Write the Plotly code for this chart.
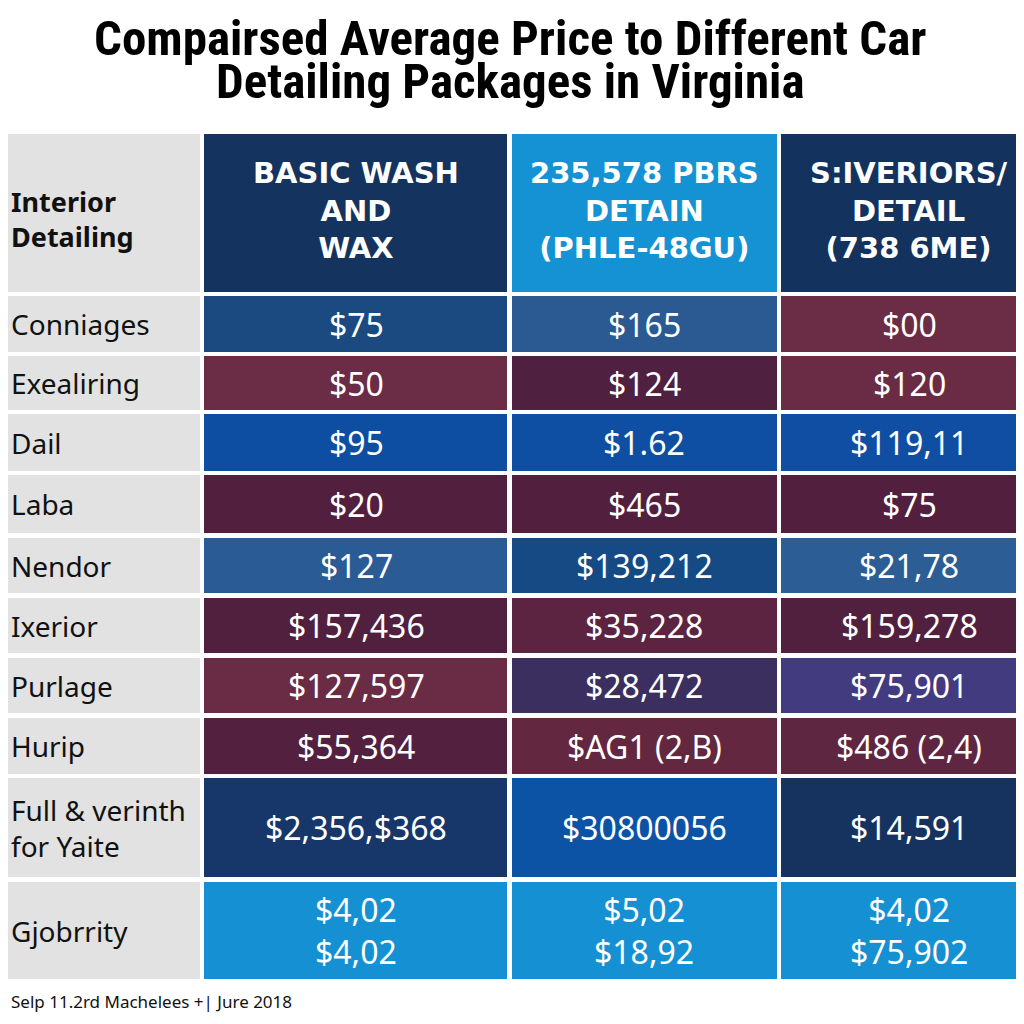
import plotly.graph_objects as go

# ---------------- data ----------------
title_lines = ["Compairsed Average Price to Different Car", "Detailing Packages in Virginia"]
corner_label = "Interior<br>Detailing"
column_headers = ["BASIC WASH<br>AND<br>WAX",
                  "235,578 PBRS<br>DETAIN<br>(PHLE-48GU)",
                  "S:IVERIORS/<br>DETAIL<br>(738 6ME)"]
row_labels = ["Conniages", "Exealiring", "Dail", "Laba", "Nendor", "Ixerior",
              "Purlage", "Hurip", "Full & verinth<br>for Yaite", "Gjobrrity"]
basic_wash_values = ["$75", "$50", "$95", "$20", "$127", "$157,436", "$127,597",
                     "$55,364", "$2,356,$368", "$4,02<br>$4,02"]
pbrs_detain_values = ["$165", "$124", "$1.62", "$465", "$139,212", "$35,228",
                      "$28,472", "$AG1 (2,B)", "$30800056", "$5,02<br>$18,92"]
siveriors_values = ["$00", "$120", "$119,11", "$75", "$21,78", "$159,278",
                    "$75,901", "$486 (2,4)", "$14,591", "$4,02<br>$75,902"]
footer_text = "Selp 11.2rd Machelees +| Jure 2018"

# ---------------- styles / layout ----------------
header_colors = ["#14335f", "#1592d3", "#13325e"]
cell_colors = [
    ["#1b4a80", "#2a5a91", "#6b2c45"],
    ["#6b2c45", "#4f2040", "#6a2b44"],
    ["#0d4ea3", "#0e4fa3", "#0f4ea2"],
    ["#52203e", "#52203e", "#52203e"],
    ["#2a5b94", "#154a84", "#2c5d95"],
    ["#51203f", "#5d2442", "#51203f"],
    ["#6a2b44", "#3b2f5f", "#433b80"],
    ["#54203f", "#63273f", "#5f2641"],
    ["#17366a", "#0c53a6", "#16335f"],
    ["#1590d2", "#1590d2", "#1590d2"],
]
label_fill = "#e2e2e2"
col_edges = [(0, 200), (204, 507), (512, 777), (781, 1040)]
col_text_x = [None, 356, 644, 909]
header_edges = (134, 292)
row_edges = [(296, 352), (356, 410), (414, 471), (475, 533), (538, 593),
             (598, 653), (658, 713), (718, 774), (778, 877), (882, 979)]
title_y = [38, 81]
page_offset = 8  # browser default body margin
fig_size = 1024 - page_offset

value_columns = [basic_wash_values, pbrs_detain_values, siveriors_values]

fig = go.Figure()
shapes = []
annotations = []

def rect(x0, x1, y0, y1, color):
    shapes.append(dict(type="rect", xref="x", yref="y", x0=x0, x1=x1, y0=y0, y1=y1,
                       fillcolor=color, line=dict(width=0), layer="below"))

# header row
rect(col_edges[0][0] - 10, col_edges[0][1], header_edges[0], header_edges[1], label_fill)
hy = (header_edges[0] + header_edges[1]) / 2
annotations.append(dict(x=9, y=hy + 6, xref="x", yref="y", text=corner_label,
                        showarrow=False, xanchor="left", yanchor="middle", align="left",
                        font=dict(family="Noto Sans", size=27, color="#111111", weight="bold")))
for c in range(3):
    x0, x1 = col_edges[c + 1]
    rect(x0, x1, header_edges[0], header_edges[1], header_colors[c])
    annotations.append(dict(x=col_text_x[c + 1], y=hy - 3, xref="x", yref="y",
                            text=column_headers[c], showarrow=False,
                            xanchor="center", yanchor="middle", align="center",
                            font=dict(family="DejaVu Sans", size=29, color="white",
                                      weight="bold")))

# body rows
for r, label in enumerate(row_labels):
    y0, y1 = row_edges[r]
    yc = (y0 + y1) / 2
    rect(col_edges[0][0] - 10, col_edges[0][1], y0, y1, label_fill)
    annotations.append(dict(x=9, y=yc, xref="x", yref="y", text=label,
                            showarrow=False, xanchor="left", yanchor="middle", align="left",
                            font=dict(family="Noto Sans", size=28, color="#111111")))
    for c in range(3):
        x0, x1 = col_edges[c + 1]
        rect(x0, x1, y0, y1, cell_colors[r][c])
        annotations.append(dict(x=col_text_x[c + 1], y=yc, xref="x", yref="y",
                                text=value_columns[c][r], showarrow=False,
                                xanchor="center", yanchor="middle", align="center",
                                font=dict(family="Noto Sans", size=32, color="white")))

# title
for line, ty in zip(title_lines, title_y):
    annotations.append(dict(x=510, y=ty, xref="x", yref="y", text="<b>" + line + "</b>",
                            showarrow=False, xanchor="center", yanchor="middle", align="center",
                            font=dict(family="Liberation Sans Narrow, Roboto Condensed, Arial Narrow, sans-serif",
                                      size=49, color="#000000")))
# footer
annotations.append(dict(x=9, y=1001, xref="x", yref="y", text=footer_text,
                        showarrow=False, xanchor="left", yanchor="middle", align="left",
                        font=dict(family="Noto Sans", size=17, color="#111111")))

fig.update_layout(
    width=fig_size, height=fig_size,
    margin=dict(l=0, r=0, t=0, b=0),
    paper_bgcolor="white", plot_bgcolor="white",
    xaxis=dict(range=[page_offset, 1024], visible=False, fixedrange=True),
    yaxis=dict(range=[1024, page_offset], visible=False, fixedrange=True),
    shapes=shapes, annotations=annotations, showlegend=False,
)

fig.write_html("out.html")
